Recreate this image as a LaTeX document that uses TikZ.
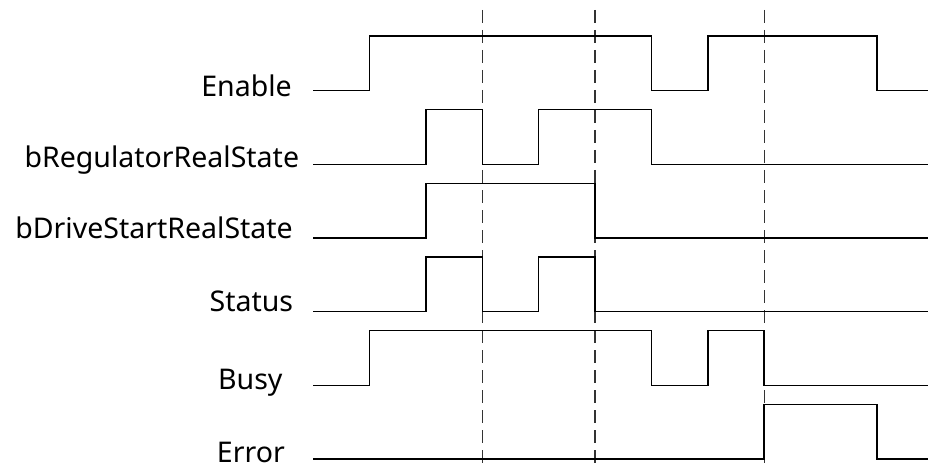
\documentclass[tikz,border=0pt]{standalone}
\usepackage{fontspec}
\setmainfont{Noto Sans}
\usetikzlibrary{positioning}

\begin{document}
\begin{tikzpicture}[
  x=1pt, y=-1pt,
  font=\fontsize{28.5}{32}\selectfont,
  lbl/.style={anchor=base east, inner sep=0pt},
  wave/.style={line width=1.5pt, line join=miter},
  marker/.style={line width=1.2pt, black!80, dash pattern=on 13pt off 7pt}
]
\useasboundingbox (0,0) rectangle (928,465);

% signal names
\node[lbl] (enable) at (292,96.7) {Enable};
\node[lbl] (regstate) at (299.3,167.5) {bRegulatorRealState};
\node[lbl] (drvstate) at (293,238.3) {bDriveStartRealState};
\node[lbl] (status) at (293.3,311.7) {Status};
\node[lbl] (busy) at (282.7,389) {Busy};
\node[lbl] (error) at (285,462) {Error};

% start of each trace
\coordinate (enable0) at (313.3,90.7);
\coordinate (regstate0) at (313.3,164.4);
\coordinate (drvstate0) at (313.3,238);
\coordinate (status0) at (313.3,311.7);
\coordinate (busy0) at (313.3,385.3);
\coordinate (error0) at (313.3,459);

% markers
\foreach \t in {3,5,8}
  \draw[marker] (313.3+56.35*\t,10) -- (313.3+56.35*\t,465);

% traces
\draw[wave] (enable0) -- ++(56.35,0) -- ++(0,-54.7) -- ++(5*56.35,0) -- ++(0,54.7)
  -- ++(56.35,0) -- ++(0,-54.7) -- ++(3*56.35,0) -- ++(0,54.7) -- ++(60,0);
\draw[wave] (regstate0) -- ++(2*56.35,0) -- ++(0,-54.7) -- ++(56.35,0) -- ++(0,54.7)
  -- ++(56.35,0) -- ++(0,-54.7) -- ++(2*56.35,0) -- ++(0,54.7) -- ++(300,0);
\draw[wave] (drvstate0) -- ++(2*56.35,0) -- ++(0,-54.7) -- ++(3*56.35,0) -- ++(0,54.7)
  -- ++(400,0);
\draw[wave] (status0) -- ++(2*56.35,0) -- ++(0,-54.7) -- ++(56.35,0) -- ++(0,54.7)
  -- ++(56.35,0) -- ++(0,-54.7) -- ++(56.35,0) -- ++(0,54.7) -- ++(400,0);
\draw[wave] (busy0) -- ++(56.35,0) -- ++(0,-54.7) -- ++(5*56.35,0) -- ++(0,54.7)
  -- ++(56.35,0) -- ++(0,-54.7) -- ++(56.35,0) -- ++(0,54.7) -- ++(200,0);
\draw[wave] (error0) -- ++(8*56.35,0) -- ++(0,-54.7) -- ++(2*56.35,0) -- ++(0,54.7)
  -- ++(60,0);
\end{tikzpicture}
\end{document}
